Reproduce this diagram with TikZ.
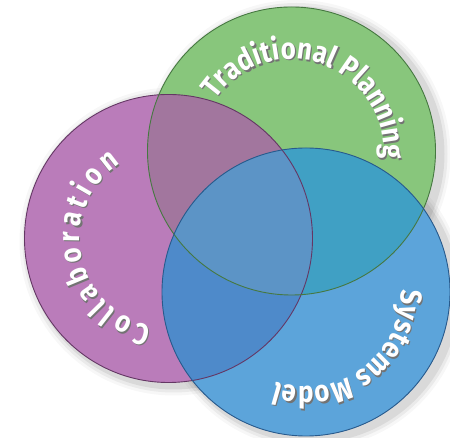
\documentclass[tikz,border=0pt]{standalone}
\usepackage{fontspec}
\setmainfont{Fira Sans}[FakeStretch=0.86]
\usetikzlibrary{decorations.text,calc}
\definecolor{cP}{RGB}{186,124,186}
\definecolor{cG}{RGB}{136,198,124}
\definecolor{cB}{RGB}{92,164,218}
\definecolor{cPG}{RGB}{162,118,158}
\definecolor{cPB}{RGB}{78,138,202}
\definecolor{cGB}{RGB}{64,160,196}
\definecolor{cPGB}{RGB}{92,148,198}
\definecolor{lP}{RGB}{100,55,100}
\definecolor{lG}{RGB}{70,120,65}
\definecolor{lB}{RGB}{40,90,140}
\tikzset{
  ring/.style={line width=0.9pt},
  curvetext/.style={decorate, decoration={text along path, text align=fit to path, text color=#1}},
}
\newcommand{\lbl}{\bfseries\fontsize{30}{30}\selectfont}
\begin{document}
\begin{tikzpicture}[x=1pt,y=1pt]
\useasboundingbox (0,0) rectangle (450,438);
\coordinate (G) at (291.5,287);
\coordinate (P) at (168.5,199.5);
\coordinate (B) at (306,146);
\def\R{144}
% soft shadow
\foreach \k/\o in {10/0.03,7/0.05,4/0.07}{
  \fill[black,opacity=\o] ($(G)+(5,-3)$) circle (\R+\k);
  \fill[black,opacity=\o] ($(B)+(5,-3)$) circle (\R+\k);
  \fill[black,opacity=\o] ($(P)+(5,-3)$) circle (\R+\k);
}
% base fills
\fill[cP] (P) circle (\R);
\fill[cG] (G) circle (\R);
\fill[cB] (B) circle (\R);
\begin{scope}\clip (P) circle (\R); \fill[cPG] (G) circle (\R); \fill[cPB] (B) circle (\R); \end{scope}
\begin{scope}\clip (G) circle (\R); \fill[cGB] (B) circle (\R); \end{scope}
\begin{scope}\clip (P) circle (\R); \clip (G) circle (\R); \fill[cPGB] (B) circle (\R); \end{scope}
% outlines
\node[draw=lP,ring,circle,minimum size=288pt,inner sep=0pt] (cp) at (P) {};
\node[draw=lG,ring,circle,minimum size=288pt,inner sep=0pt] (cg) at (G) {};
\node[draw=lB,ring,circle,minimum size=288pt,inner sep=0pt] (cb) at (B) {};
% labels: shadow then white
\foreach \dx/\dy/\col in {1.3/-1.6/black!55, 0/0/white}{
  \path[curvetext=\col, decoration={text={|\lbl|Collaboration}}]
    ($(P)+(\dx,\dy)$) ++(259:89) arc[start angle=259, end angle=123, radius=89];
  \path[curvetext=\col, decoration={text={|\lbl|Traditional Planning}}]
    ($(G)+(\dx,\dy)$) ++(146:92) arc[start angle=146, end angle=-5, radius=92];
  \path[curvetext=\col, decoration={text={|\lbl|Systems Model}}]
    ($(B)+(\dx,\dy)$) ++(1.3:95) arc[start angle=1.3, end angle=-108.3, radius=95];
}
\end{tikzpicture}
\end{document}
